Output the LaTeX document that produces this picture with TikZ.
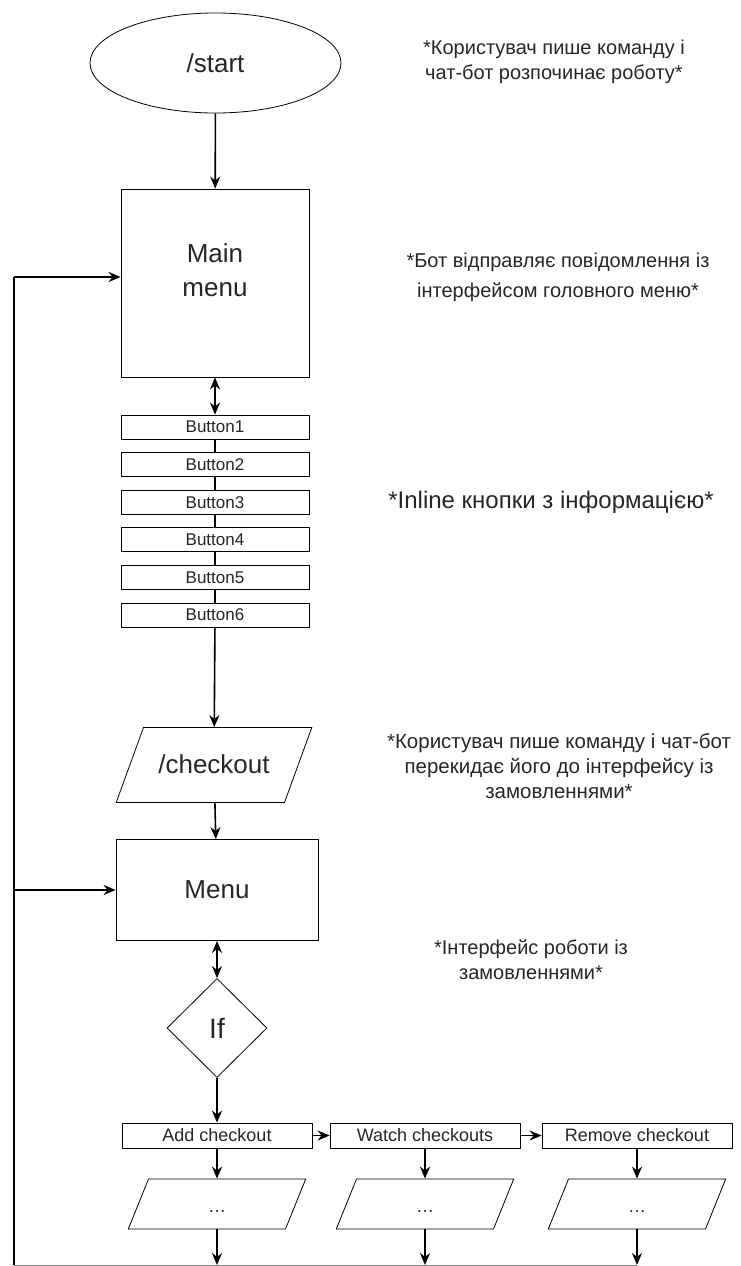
\documentclass[tikz,border=0pt]{standalone}
\usepackage{fontspec}
\setmainfont{Liberation Sans}
\usetikzlibrary{calc,shapes.geometric,arrows.meta}

\begin{document}
\begin{tikzpicture}[x=1pt,y=-1pt,
  every node/.style={text=black!85},
  blk/.style={draw,rectangle,line width=0.8pt,inner sep=0pt},
  btn/.style={blk,minimum width=188pt,minimum height=24pt,font=\fontsize{17}{17}\selectfont},
  opt/.style={blk,minimum width=190pt,minimum height=25pt,font=\fontsize{18}{18}\selectfont},
  io/.style={draw,trapezium,line width=0.8pt,inner sep=0pt,align=center},
  dots/.style={io,trapezium left angle=68,trapezium right angle=112,text width=137pt,text height=33pt,text depth=17pt,font=\fontsize{18}{18}\selectfont},
  big/.style={font=\fontsize{26}{34}\selectfont,align=center},
  note/.style={align=center,font=\fontsize{20}{25}\selectfont},
  flow/.style={line width=1.6pt,-{Stealth[length=12pt,width=10pt]}},
  flow2/.style={line width=1.6pt,{Stealth[length=12pt,width=10pt]}-{Stealth[length=12pt,width=10pt]}},
  link/.style={line width=1.6pt}]
\useasboundingbox (0,0) rectangle (741,1266);

\draw node [draw,ellipse,minimum width=251pt,minimum height=100pt,line width=0.8pt,big] (start) at (215.5,63) {/start};
\draw node [blk,big,minimum width=188pt,minimum height=188pt,text depth=26pt] (mainmenu) at (215,283) {Main\\menu};
\foreach \i in {1,...,6}
  \draw node [btn] (b\i) at (215,{427+(\i-1)*37.6}) {Button\i};
\draw node [io,big,trapezium left angle=70,trapezium right angle=110,text width=141pt,text height=46pt,text depth=29pt] (checkout) at (214,765) {/checkout};
\draw node [blk,big,minimum width=202pt,minimum height=101pt] (menu) at (217,890) {Menu};
\draw node [draw,diamond,minimum width=100pt,minimum height=99pt,inner sep=0pt,line width=0.8pt,big,font=\fontsize{28}{28}\selectfont] (if) at (217,1028) {If};
\draw node [opt] (add) at (217,1135.5) {Add checkout};
\draw node [opt] (watch) at (425,1135.5) {Watch checkouts};
\draw node [opt] (remove) at (637,1135.5) {Remove checkout};
\draw node [dots] (p1) at (217,1204) {\dots};
\draw node [dots] (p2) at (425,1204) {\dots};
\draw node [dots] (p3) at (637,1204) {\dots};

\draw node [note] (note1) at (554,62) {*Користувач пише команду і\\чат-бот розпочинає роботу*};
\draw node [note,font=\fontsize{20}{30}\selectfont] (note2) at (558,277) {*Бот відправляє повідомлення із\\інтерфейсом головного меню*};
\draw node [note,font=\fontsize{24}{30}\selectfont] (note3) at (551,502) {*Inline кнопки з інформацією*};
\draw node [note,font=\fontsize{20.5}{25}\selectfont] (note4) at (559,766) {*Користувач пише команду і чат-бот\\перекидає його до інтерфейсу із\\замовленнями*};
\draw node [note] (note5) at (531,960) {*Інтерфейс роботи із\\замовленнями*};

\coordinate (bl) at (14,1265);
\coordinate (tl) at (14,277);

\draw[flow] (start) -- (mainmenu);
\draw[flow2] (mainmenu) -- (b1);
\foreach \i [count=\j from 2] in {1,...,5}
  \draw[line width=1.2pt] (b\i) -- (b\j);
\draw[flow] (b6) -- (checkout);
\draw[flow] (checkout) -- (menu);
\draw[flow2] (menu) -- (if);
\draw[flow] (if) -- (add);
\draw[flow] (add) -- (watch);
\draw[flow] (watch) -- (remove);
\draw[flow] (add) -- (p1);
\draw[flow] (watch) -- (p2);
\draw[flow] (remove) -- (p3);
\foreach \p in {p1,p2,p3}
  \draw[flow] (\p) -- (\p |- bl);
\draw[black!50,line width=0.8pt] (bl) -- (p3 |- bl);
\draw[link] (bl) -- (tl);
\draw[flow] (tl) -- (tl -| mainmenu.west);
\draw[flow] (bl |- menu) -- (menu.west);

\end{tikzpicture}
\end{document}
